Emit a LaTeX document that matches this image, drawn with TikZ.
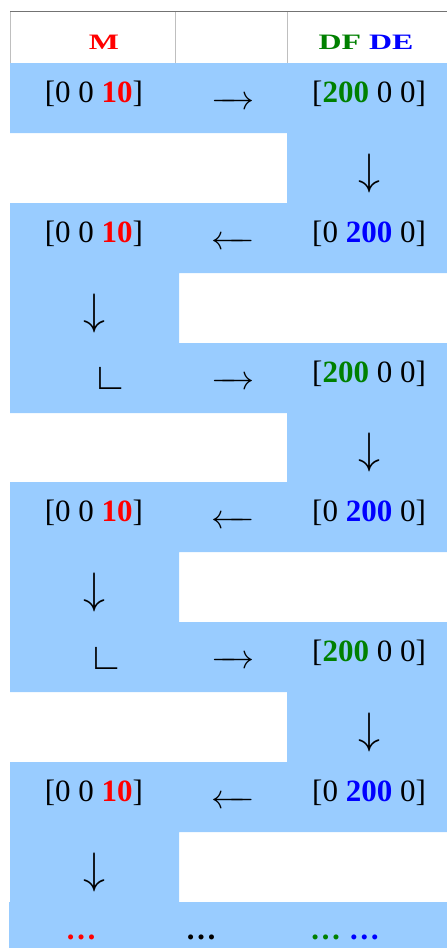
\documentclass[tikz,border=0pt]{standalone}
\usepackage{fix-cm}
\usepackage{fontspec}
\setmainfont{Liberation Serif}
\usepackage{graphicx}
\usepackage{tikz}
\usetikzlibrary{positioning}
\definecolor{cellblue}{HTML}{99CCFF}
\definecolor{mred}{HTML}{FF0000}
\definecolor{dfgreen}{HTML}{008000}
\definecolor{deblue}{HTML}{0000FF}
\newcommand{\hl}[2]{\textbf{\textcolor{#1}{#2}}}
% arrows a little longer than \rightarrow, shorter than \longrightarrow
\newcommand{\toright}{\mathrel{\relbar\mkern-9mu\rightarrow}}
\newcommand{\toleft}{\mathrel{\leftarrow\mkern-9mu\relbar}}

\begin{document}
\begin{tikzpicture}[x=1pt, y=-1pt,
    val/.style={anchor=base, inner sep=0pt, font=\fontsize{31}{36}\selectfont},
    corner/.style={anchor=base, inner sep=0pt, font=\fontsize{37}{42}\selectfont},
    harr/.style={inner sep=0pt, font=\fontsize{34}{38}\selectfont},
    varr/.style={inner sep=0pt, font=\fontsize{44}{50}\selectfont},
    head/.style={inner sep=0pt, font=\bfseries\fontsize{22}{26}\selectfont}
    ]
        \useasboundingbox (0,0) rectangle (447,948);

        %Header
        \draw[draw=black!25, fill=white] (10,11) rectangle (447,63);
        \draw[draw=black!25] (175,11) -- (175,63) (287,11) -- (287,63);
        \draw[draw=black!55] (10,11) -- (447,11);
        \draw[draw=black!45] (10,63) -- (447,63);
        \node[head] (hm) at (104,42) {\scalebox{1.45}[1]{\hl{mred}{M}}};
        \node[head] (hd) at (366,42) {\scalebox{1.45}[1]{\hl{dfgreen}{DF} \hl{deblue}{DE}}};

        %Bands
        \fill[cellblue] (10,63) rectangle (447,133)
            (287,133) rectangle (447,203)
            (10,203) rectangle (447,273)
            (10,273) rectangle (179,343)
            (10,343) rectangle (447,413)
            (287,413) rectangle (447,482)
            (10,482) rectangle (447,552)
            (10,552) rectangle (179,622)
            (10,622) rectangle (447,692)
            (287,692) rectangle (447,762)
            (10,762) rectangle (447,832)
            (10,832) rectangle (179,902)
            (9,902) rectangle (447,948);

        %Values
        \node[val] (m1) at (94,102) {[0 0 \hl{mred}{10}]};
        \node[val] (d1) at (369,102) {[\hl{dfgreen}{200} 0 0]};
        \node[val] (m2) at (94,242) {[0 0 \hl{mred}{10}]};
        \node[val] (d2) at (369,242) {[0 \hl{deblue}{200} 0]};
        \node[corner] (c1) at (110,389) {∟};
        \node[val] (d3) at (369,382) {[\hl{dfgreen}{200} 0 0]};
        \node[val] (m3) at (94,521) {[0 0 \hl{mred}{10}]};
        \node[val] (d4) at (369,521) {[0 \hl{deblue}{200} 0]};
        \node[corner] (c2) at (106,669) {∟};
        \node[val] (d5) at (369,661) {[\hl{dfgreen}{200} 0 0]};
        \node[val] (m4) at (94,801) {[0 0 \hl{mred}{10}]};
        \node[val] (d6) at (369,801) {[0 \hl{deblue}{200} 0]};

        %Arrows
        \node[harr] (a1) at (233,103) {$\toright$};
        \node[varr] (a2) at (369,173) {$\downarrow$};
        \node[harr] (a3) at (233,243) {$\toleft$};
        \node[varr] (a4) at (94,313) {$\downarrow$};
        \node[harr] (a5) at (233,383) {$\toright$};
        \node[varr] (a6) at (369,452) {$\downarrow$};
        \node[harr] (a7) at (233,522) {$\toleft$};
        \node[varr] (a8) at (94,592) {$\downarrow$};
        \node[harr] (a9) at (233,662) {$\toright$};
        \node[varr] (a10) at (369,732) {$\downarrow$};
        \node[harr] (a11) at (233,802) {$\toleft$};
        \node[varr] (a12) at (94,872) {$\downarrow$};

        %Dots
        \node[val] (e1) at (81,939) {\hl{mred}{…}};
        \node[val] (e2) at (201,939) {\hl{black}{…}};
        \node[val] (e3) at (345,939) {\hl{dfgreen}{…} \hl{deblue}{…}};
    \end{tikzpicture}
\end{document}
